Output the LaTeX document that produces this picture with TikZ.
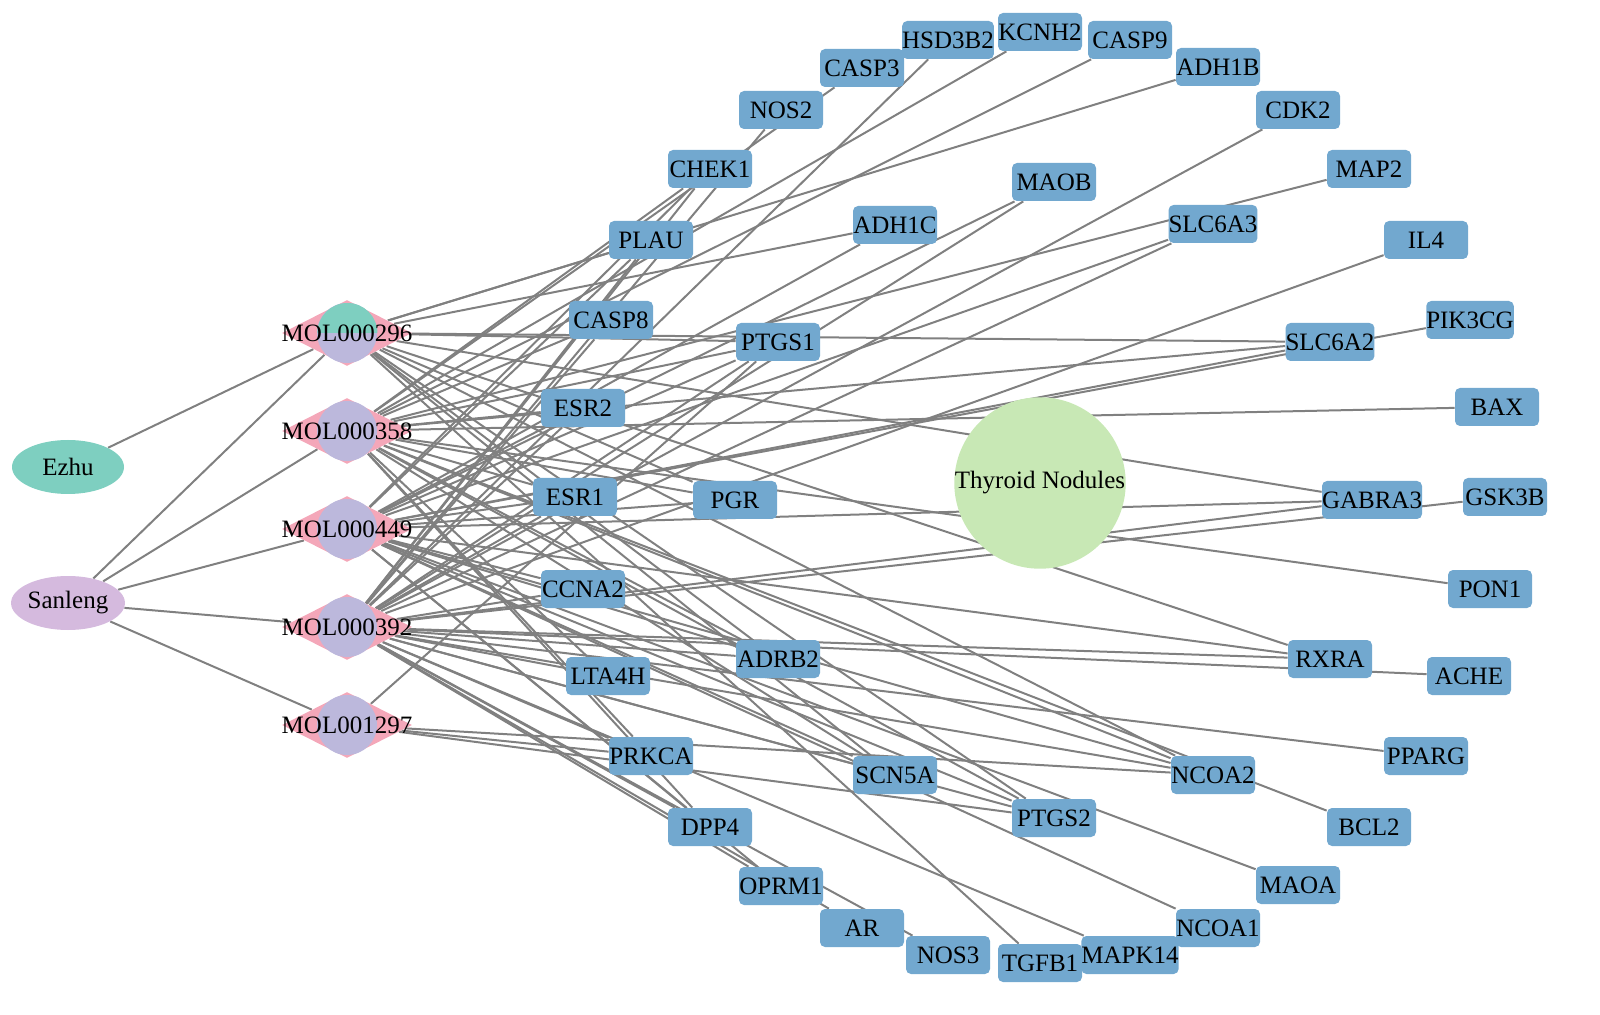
\documentclass[tikz,border=0pt]{standalone}
\usepackage{fontspec}
\setmainfont{Liberation Serif}
\usetikzlibrary{shapes.geometric}

\definecolor{tgtblue}{RGB}{114,168,207}
\definecolor{molpink}{RGB}{244,167,185}
\definecolor{herbteal}{RGB}{126,207,192}
\definecolor{herblilac}{RGB}{213,186,222}
\definecolor{molring}{RGB}{188,184,220}
\definecolor{dzgreen}{RGB}{200,232,181}
\definecolor{linkgray}{RGB}{128,128,128}

\pgfdeclarelayer{links}
\pgfsetlayers{links,main}

\begin{document}
\begin{tikzpicture}[
    x=0.5pt, y=-0.5pt,
    every node/.style={font=\fontsize{12.5}{14}\selectfont},
    target/.style={fill=tgtblue, rounded corners=2.5pt, minimum width=42pt, minimum height=19pt, inner sep=0pt},
    herb/.style={ellipse, fill=#1, minimum width=56pt, minimum height=27pt, inner sep=0pt},
    mol/.style={diamond, fill=molpink, minimum width=65pt, minimum height=33pt, inner sep=0pt},
    ring/.style={circle, fill=molring, minimum size=30pt, inner sep=0pt},
    disease/.style={circle, fill=dzgreen, minimum size=78pt, inner sep=0pt},
    link/.style={draw=linkgray, line width=1pt}
]
\useasboundingbox (0,0) rectangle (1600,1015);

% herbs
\node[herb=herbteal] (Ezhu) at (68,467) {Ezhu};
\node[herb=herblilac] (Sanleng) at (68,603) {Sanleng};

% compounds
\foreach \m/\y in {296/333, 358/431, 449/529, 392/627, 1297/725} {
    \node[mol] (M\m) at (347,\y) {};
    \node[ring] (M\m c) at (M\m) {};
}
\fill[herbteal] (M296c.east) arc[start angle=0, end angle=180, radius=15pt] -- cycle;
\node (M296l) at (M296) {MOL000296};
\node (M358l) at (M358) {MOL000358};
\node (M449l) at (M449) {MOL000449};
\node (M392l) at (M392) {MOL000392};
\node (M1297l) at (M1297) {MOL001297};

% disease
\node[disease] (TN) at (1040,483) {Thyroid Nodules};

% targets
\foreach \t/\x/\y in {HSD3B2/948/40, KCNH2/1040/32, CASP9/1130/40, CASP3/862/68,
    ADH1B/1218/67, NOS2/781/110, CDK2/1298/110, CHEK1/710/169, MAOB/1054/182,
    MAP2/1369/169, PLAU/651/240, ADH1C/895/225, SLC6A3/1213/224, IL4/1426/240,
    CASP8/611/320, PTGS1/778/342, PIK3CG/1470/320, SLC6A2/1330/342, ESR2/583/408,
    BAX/1497/407, ESR1/575/497, PGR/735/500, GABRA3/1372/500, GSK3B/1505/497,
    CCNA2/583/589, PON1/1490/589, ADRB2/778/659, RXRA/1330/659, LTA4H/608/676,
    ACHE/1469/676, PPARG/1426/756, PRKCA/651/756, SCN5A/895/775, NCOA2/1213/775,
    PTGS2/1054/818, BCL2/1369/827, DPP4/710/827, MAOA/1298/885, OPRM1/781/886,
    AR/862/928, NCOA1/1218/928, MAPK14/1130/955, NOS3/948/955, TGFB1/1040/963}
    \node[target] (\t) at (\x,\y) {\t};

% links
\begin{pgfonlayer}{links}
\draw[link] (Ezhu) -- (M296);
\foreach \m in {296,358,449,392,1297}
    \draw[link] (Sanleng) -- (M\m);
\foreach \t in {ADH1B, PLAU, ADH1C, PTGS1, SLC6A2, GABRA3, PGR, ADRB2,
    RXRA, SCN5A, NCOA2, PTGS2, TGFB1}
    \draw[link] (M296) -- (\t);
\foreach \t in {KCNH2, CASP9, CASP3, CHEK1, MAP2, CASP8, PTGS1, SLC6A2, BAX, ESR2,
    ESR1, PGR, PON1, ADRB2, LTA4H, PRKCA, SCN5A, NCOA2, PTGS2, BCL2, DPP4}
    \draw[link] (M358) -- (\t);
\foreach \t in {CHEK1, MAOB, PLAU, ADH1C, SLC6A3, PTGS1, PIK3CG, SLC6A2, ESR2,
    GABRA3, ESR1, PGR, CCNA2, ADRB2, RXRA, SCN5A, NCOA2, PTGS2, DPP4, MAOA,
    OPRM1, NCOA1}
    \draw[link] (M449) -- (\t);
\foreach \t in {HSD3B2, NOS2, CDK2, CHEK1, MAOB, PLAU, SLC6A3, IL4, CASP8, PTGS1,
    ESR2, GABRA3, GSK3B, ESR1, CCNA2, ADRB2, RXRA, ACHE, LTA4H, PPARG, PRKCA,
    SCN5A, NCOA2, PTGS2, DPP4, OPRM1, AR, MAPK14, NOS3}
    \draw[link] (M392) -- (\t);
\foreach \t in {PTGS1, PRKCA, NCOA2, PTGS2}
    \draw[link] (M1297) -- (\t);
\end{pgfonlayer}
\end{tikzpicture}
\end{document}
